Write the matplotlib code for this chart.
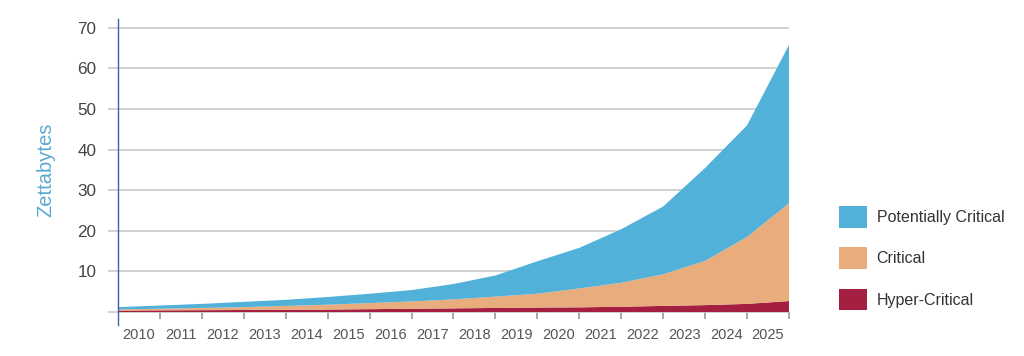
import matplotlib.pyplot as plt
import numpy as np

plt.rcParams['font.family'] = ['Liberation Sans', 'DejaVu Sans']

# year labels, values sit on the year boundaries (start of 2010 .. end of 2025)
years = list(range(2010, 2026))
edges = list(range(2010, 2027))

hyper_critical = [0.35, 0.4, 0.45, 0.5, 0.55, 0.6, 0.7, 0.8, 0.9, 1.0,
                  1.1, 1.15, 1.3, 1.5, 1.7, 2.0, 2.7]
critical = [0.3, 0.4, 0.55, 0.7, 0.95, 1.2, 1.5, 1.8, 2.2, 2.8,
            3.4, 4.65, 5.9, 7.8, 10.9, 16.5, 24.1]
potentially_critical = [0.55, 0.8, 1.0, 1.3, 1.5, 1.9, 2.3, 2.8, 3.8, 5.2,
                        8.0, 10.0, 13.2, 16.7, 22.9, 27.5, 39.0]

series = ['Hyper-Critical', 'Critical', 'Potentially Critical']
colors = ['#a52040', '#e9ac7d', '#51b1d9']

fig = plt.figure(figsize=(10.24, 3.56), dpi=100)
ax = fig.add_axes([0.1152, 0.0871, 0.6553, 0.8596])

polys = ax.stackplot(edges, hyper_critical, critical, potentially_critical,
                     colors=colors, labels=series, linewidth=0)

ax.set_xlim(2010, 2026)
ax.set_ylim(-3.2, 72.2)

# gridlines (drawn under the areas)
ax.set_axisbelow(True)
ax.yaxis.grid(True, color='#c8c8c8', linewidth=1.2)
ax.set_yticks(range(0, 71, 10))
ax.set_yticklabels([''] + [str(v) for v in range(10, 71, 10)])
ax.tick_params(axis='y', length=7.5, width=1.2, color='#c8c8c8',
               labelsize=12.3, labelcolor='#444444', pad=8)

# x axis sits on zero
for s in ['top', 'right']:
    ax.spines[s].set_visible(False)
ax.spines['bottom'].set_position(('data', 0))
ax.spines['bottom'].set_visible(False)
ax.spines['left'].set_color('#3a62a8')
ax.spines['left'].set_linewidth(1.0)

ax.set_xticks(edges[1:])
ax.set_xticklabels([])
ax.set_xticks([y + 0.5 for y in years], minor=True)
ax.set_xticklabels([str(y) for y in years], minor=True)
ax.tick_params(axis='x', which='major', length=5, width=1.2, color='#999999', direction='out')
ax.tick_params(axis='x', which='minor', length=0, labelsize=10.5,
               labelcolor='#555555', pad=11.5)

ax.set_ylabel('Zettabytes', fontsize=14.5, color='#5aaad2')
ax.yaxis.set_label_coords(-0.094, 0.507)

handles, labels = ax.get_legend_handles_labels()
leg = ax.legend(handles[::-1], labels[::-1], loc='upper left',
                bbox_to_anchor=(0.819, 0.421), bbox_transform=fig.transFigure,
                frameon=False, fontsize=11.5, handlelength=1.75, handleheight=1.7,
                labelspacing=1.23, handletextpad=0.62, borderpad=0, borderaxespad=0)
for t in leg.get_texts():
    t.set_color('#333333')

fig.savefig('out.png', dpi=100)
